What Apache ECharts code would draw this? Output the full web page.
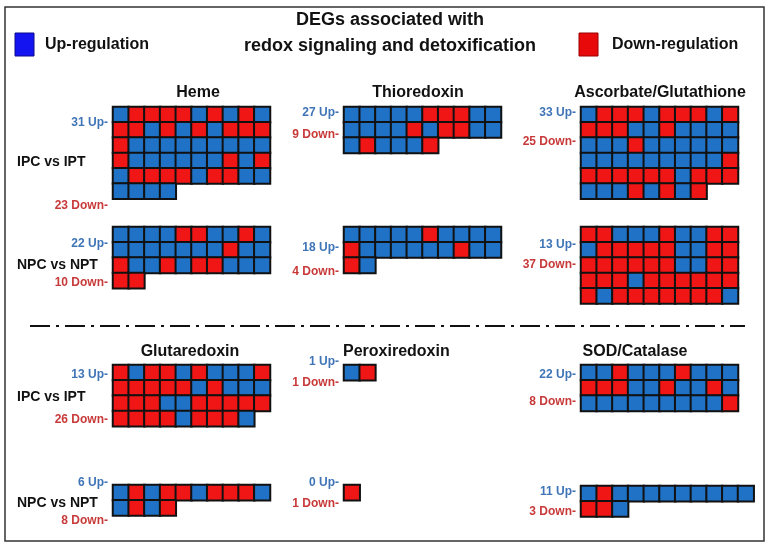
<!DOCTYPE html>
<html>
<head>
<meta charset="utf-8">
<script src="https://cdn.jsdelivr.net/npm/echarts@6/dist/echarts.min.js"></script>
<style>
  html, body { margin: 0; padding: 0; background: #fff; }
  #chart { width: 771px; height: 548px; }
</style>
</head>
<body>
<div id="chart"></div>
<script>
// U = up-regulated gene (blue), D = down-regulated gene (red), one string per row
const hemeIPC = ['URRRRURURU', 'RRURURURRR', 'RUUUUUUUUU', 'RUUUUUURUR', 'URRRRURRUU', 'UUUU']
const thioIPC = ['UUUUURRRUU', 'UUUURURRUU', 'URUUUR']
const ascIPC = ['URRRURRRUR', 'RRRUURUUUU', 'UUURUUUUUU', 'UUUUUUUUUR', 'RRRRRRURRR', 'UUURURUR']
const hemeNPC = ['UUUURRUURU', 'UUUUUUURUU', 'RUURURRUUU', 'RR']
const thioNPC = ['UUUUURUUUU', 'RUUUUUURUU', 'RU']
const ascNPC = ['RRUUURUURR', 'URRRRRUURR', 'RRRRRRUURR', 'RRRURRRRRR', 'RURRRRRRRU']
const glutIPC = ['RURRURUUUR', 'RRRRRURUUU', 'RRRUURRRRR', 'RRRRURRRU']
const peroxIPC = ['UR']
const sodIPC = ['UURUUURUUU', 'RRRUURUURU', 'UUUUUUUUUR']
const glutNPC = ['URURRURRRU', 'URUR']
const peroxNPC = ['R']
const sodNPC = ['URUUUUUUUUU', 'RRU']

const panelCells = [hemeIPC, thioIPC, ascIPC, hemeNPC, thioNPC, ascNPC, glutIPC, peroxIPC, sodIPC, glutNPC, peroxNPC, sodNPC]
const upLabels = ['31 Up-', '27 Up-', '33 Up-', '22 Up-', '18 Up-', '13 Up-', '13 Up-', '1 Up-', '22 Up-', '6 Up-', '0 Up-', '11 Up-']
const downLabels = ['23 Down-', '9 Down-', '25 Down-', '10 Down-', '4 Down-', '37 Down-', '26 Down-', '1 Down-', '8 Down-', '8 Down-', '1 Down-', '3 Down-']
const familyNames = ['Heme', 'Thioredoxin', 'Ascorbate/Glutathione', 'Glutaredoxin', 'Peroxiredoxin', 'SOD/Catalase']
const comparisons = ['IPC vs IPT', 'NPC vs NPT', 'IPC vs IPT', 'NPC vs NPT']

const BLUE = '#1f72c6'
const RED = '#f01616'
const CW = 15.7
const CH = 15.3

// layout of each panel: grid corner and where its two labels sit
const layout = [
  { x: 113, y: 107, upY: 123, downY: 206 },
  { x: 344, y: 107, upY: 113, downY: 135 },
  { x: 581, y: 107, upY: 113, downY: 142 },
  { x: 113, y: 227, upY: 244, downY: 283 },
  { x: 344, y: 227, upY: 248, downY: 272 },
  { x: 581, y: 227, upY: 245, downY: 265 },
  { x: 113, y: 365, upY: 375, downY: 420 },
  { x: 344, y: 365, upY: 362, downY: 383 },
  { x: 581, y: 365, upY: 375, downY: 402 },
  { x: 113, y: 485, upY: 483, downY: 521 },
  { x: 344, y: 485, upY: 483, downY: 504 },
  { x: 581, y: 486, upY: 492, downY: 512 }
]
const titlePos = [[198, 93, 'center'], [418, 93, 'center'], [660, 93, 'center'], [190, 352, 'center'], [343, 352, 'left'], [635, 352, 'center']]
const compPos = [162, 265, 397, 503]

const grids = [], xAxes = [], yAxes = [], series = [], graphics = []

panelCells.forEach((rows, i) => {
  const ncol = Math.max(...rows.map(r => r.length))
  const nrow = rows.length
  const L = layout[i]
  grids.push({ left: L.x, top: L.y, width: ncol * CW, height: nrow * CH })
  xAxes.push({ type: 'category', gridIndex: i, data: [...Array(ncol).keys()], show: false })
  yAxes.push({ type: 'category', gridIndex: i, inverse: true, data: [...Array(nrow).keys()], show: false })
  const data = []
  rows.forEach((r, ri) => r.split('').forEach((c, ci) => data.push([ci, ri, c === 'U' ? 0 : 1])))
  series.push({
    type: 'heatmap', xAxisIndex: i, yAxisIndex: i, data,
    itemStyle: { borderColor: '#111', borderWidth: 2 },
    emphasis: { disabled: true }
  })
  graphics.push({ type: 'text', x: L.x - 5, y: L.upY, style: { text: upLabels[i], fill: '#3f74b6', font: 'bold 12px "Liberation Sans", Arial', align: 'right', verticalAlign: 'middle' } })
  graphics.push({ type: 'text', x: L.x - 5, y: L.downY, style: { text: downLabels[i], fill: '#c83a3a', font: 'bold 12px "Liberation Sans", Arial', align: 'right', verticalAlign: 'middle' } })
})

familyNames.forEach((n, i) => {
  graphics.push({ type: 'text', x: titlePos[i][0], y: titlePos[i][1], style: { text: n, fill: '#111', font: 'bold 16px "Liberation Sans", Arial', align: titlePos[i][2], verticalAlign: 'middle' } })
})
comparisons.forEach((n, i) => {
  graphics.push({ type: 'text', x: 17, y: compPos[i], style: { text: n, fill: '#111', font: 'bold 14px "Liberation Sans", Arial', align: 'left', verticalAlign: 'middle' } })
})

graphics.push(
  { type: 'rect', shape: { x: 5, y: 7, width: 759, height: 534 }, style: { fill: 'none', stroke: '#333', lineWidth: 1.5 }, z: -1 },
  { type: 'line', shape: { x1: 30, y1: 326, x2: 745, y2: 326 }, style: { stroke: '#111', lineWidth: 2, lineDash: [20, 6, 3, 6] } },
  { type: 'text', x: 390, y: 20, style: { text: 'DEGs associated with', fill: '#111', font: 'bold 18px "Liberation Sans", Arial', align: 'center', verticalAlign: 'middle' } },
  { type: 'text', x: 390, y: 46, style: { text: 'redox signaling and detoxification', fill: '#111', font: 'bold 18px "Liberation Sans", Arial', align: 'center', verticalAlign: 'middle' } },
  { type: 'rect', shape: { x: 15, y: 33, width: 19, height: 23 }, style: { fill: '#1414f0', stroke: '#0a0a90', lineWidth: 1 } },
  { type: 'text', x: 45, y: 45, style: { text: 'Up-regulation', fill: '#111', font: 'bold 16px "Liberation Sans", Arial', verticalAlign: 'middle' } },
  { type: 'rect', shape: { x: 579, y: 33, width: 19, height: 23 }, style: { fill: '#e80a0a', stroke: '#900', lineWidth: 1 } },
  { type: 'text', x: 612, y: 45, style: { text: 'Down-regulation', fill: '#111', font: 'bold 16px "Liberation Sans", Arial', verticalAlign: 'middle' } }
)

const chart = echarts.init(document.getElementById('chart'))
chart.setOption({
  animation: false,
  grid: grids,
  xAxis: xAxes,
  yAxis: yAxes,
  visualMap: {
    type: 'piecewise', show: false, dimension: 2,
    seriesIndex: series.map((s, i) => i),
    pieces: [{ value: 0, color: BLUE }, { value: 1, color: RED }]
  },
  series,
  graphic: graphics
})
</script>
</body>
</html>
